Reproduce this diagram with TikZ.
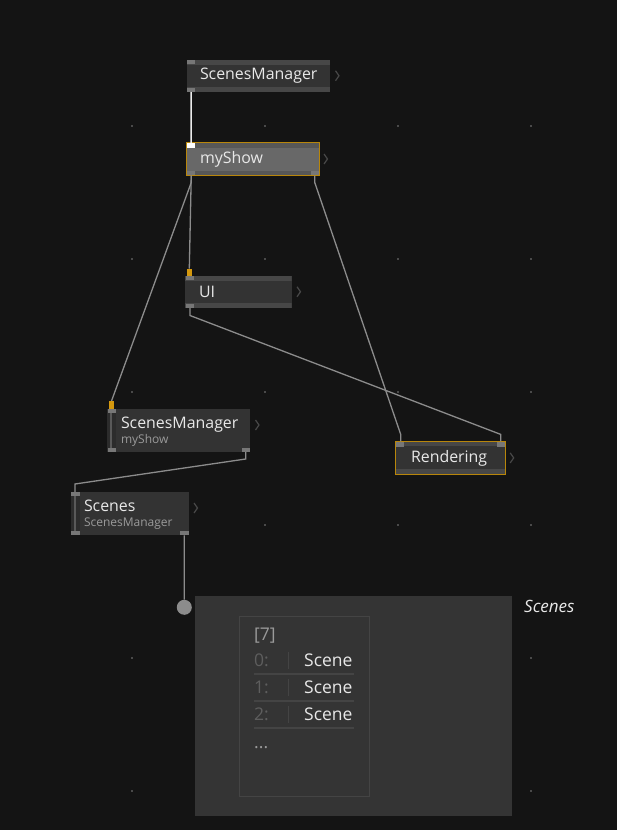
\documentclass[tikz,border=0pt]{standalone}
\usepackage{fontspec}
\setmainfont{Open Sans}
\usetikzlibrary{positioning,calc}
\definecolor{bgcol}    {HTML}{141414}
\definecolor{dotcol}   {HTML}{4A4A4A}
\definecolor{nodecol}  {HTML}{333333}
\definecolor{colcol}   {HTML}{2C2C2C}
\definecolor{stripcol} {HTML}{474747}
\definecolor{selcol}   {HTML}{686868}
\definecolor{selstrip} {HTML}{575757}
\definecolor{selframe} {HTML}{B8860B}
\definecolor{pincol}   {HTML}{777777}
\definecolor{hotpin}   {HTML}{D4980E}
\definecolor{wirecol}  {HTML}{8C8C8C}
\definecolor{textcol}  {HTML}{E8E8E8}
\definecolor{subcol}   {HTML}{9A9A9A}
\definecolor{chevcol}  {HTML}{484848}
\definecolor{tipcol}   {HTML}{343434}
\definecolor{tipframe} {HTML}{444444}
\definecolor{idxcol}   {HTML}{5E5E5E}
\newcommand\vsub[1]{{\fontsize{12}{15}\selectfont\color{subcol}#1}}

\begin{document}
\begin{tikzpicture}[x=1pt,y=-1pt,
  vnode/.style={anchor=north west,fill=nodecol,minimum height=31.5pt,outer sep=0pt,
                inner xsep=13pt,inner ysep=0pt,text width=#1,align=left,
                font=\fontsize{15.9}{15}\selectfont,text=textcol},
  strips/.style 2 args={path picture={
      \fill[#1] (path picture bounding box.north west) rectangle ([yshift=-5pt]path picture bounding box.north east);
      \fill[#2] (path picture bounding box.south west) rectangle ([yshift=5pt]path picture bounding box.south east);}},
  sel/.style={draw=selframe,line width=1.5pt},
  wire/.style={draw=wirecol,line width=1.3pt},
  pin/.style={fill=pincol},
  hot/.style={fill=hotpin},
  chev/.pic={\draw[chevcol,line width=1.2pt] (0,-5) -- (3.5,0) -- (0,5);},
  tiptext/.style={anchor=west,inner sep=0pt,font=\fontsize{17.5}{20}\selectfont}
]
\fill[bgcol] (0,0) rectangle (617,830);
\useasboundingbox (0,0) rectangle (617,830);
% grid
\foreach \gx in {131,264,397,530}
  \foreach \gy in {125,258,391,524,657,790}
    \fill[dotcol] (\gx,\gy) rectangle ++(1.6,1.6);

% probe view
\node[anchor=north west,fill=tipcol,minimum width=316.5pt,minimum height=219.5pt,inner sep=0pt] (tipbox) at (195,596) {};
\node[anchor=north west,draw=tipframe,line width=1pt,minimum width=130pt,minimum height=180pt,inner sep=0pt] (tiplist) at (239,616) {};
\node[tiptext,text=subcol] (count) at (254,636) {[7]};
\node[tiptext,text=idxcol] (idx0) at (254,660) {0:};
\node[tiptext,text=idxcol] (idx1) at (254,687.5) {1:};
\node[tiptext,text=idxcol] (idx2) at (254,714.5) {2:};
\node[tiptext,text=textcol] (val0) at (304,660) {Scene};
\node[tiptext,text=textcol] (val1) at (304,687.5) {Scene};
\node[tiptext,text=textcol] (val2) at (304,714.5) {Scene};
\node[tiptext,text=subcol,anchor=base west] (more) at (254,748) {...};
\draw[tipframe,line width=1pt] (288,652) -- (288,669) (288,679) -- (288,696) (288,706) -- (288,723);
\draw[tipframe,line width=1.3pt] (254,674) -- (354,674) (254,701) -- (354,701) (254,728) -- (354,728);
\node[anchor=west,inner sep=0pt,text=textcol,font=\itshape\fontsize{17}{20}\selectfont] (probelabel) at (524,606) {Scenes};

% nodes
\node[vnode=117pt,strips={stripcol}{stripcol}] (smTop) at (187,60) {ScenesManager};
\node[vnode=106pt,sel,fill=selcol,minimum height=33pt,inner xsep=13.5pt,strips={selstrip}{selstrip}] (myShow) at (186.5,142.5) {myShow};
\node[vnode=78.5pt,inner xsep=14pt,strips={stripcol}{stripcol}] (ui) at (185,276) {UI};
\node[vnode=115pt,inner xsep=14pt,minimum height=43pt,text depth=15pt] (smMid) at (107,409) {ScenesManager\\\vsub{myShow}};
\node[vnode=91.5pt,minimum height=43.3pt,text depth=15pt] (scenes) at (71,492) {Scenes\\\vsub{ScenesManager}};
\node[vnode=79.4pt,inner xsep=15.3pt,sel,minimum height=33pt,strips={stripcol}{stripcol}] (rendering) at (395.7,441.4) {Rendering};
\node[circle,fill=wirecol,minimum size=15pt,inner sep=0pt] (probe) at (184.3,607.3) {};

% spread columns
\fill[colcol] (smMid.north west) rectangle ([xshift=8.7pt]smMid.south west);
\fill[colcol] (scenes.north west) rectangle ([xshift=8.7pt]scenes.south west);
\draw[pincol!75!black,line width=1.7pt] ([shift={(4.3,4)}]smMid.north west) -- ([shift={(4.3,-4)}]smMid.south west);
\draw[pincol!75!black,line width=1.7pt] ([shift={(4.3,4)}]scenes.north west) -- ([shift={(4.3,-4)}]scenes.south west);

% links
\draw[draw=white!92!black,line width=1.5pt] ([xshift=4pt]smTop.south west) -- ([shift={(4.75,1)}]myShow.north west);
\draw[wire] ([xshift=4.75pt]myShow.south west) -- ([shift={(4.3,-7.3)}]ui.north west);
\draw[wire] ([xshift=4.75pt]myShow.south west) -- ++(0,7) -- ([shift={(4.5,-8)}]smMid.north west);
\draw[wire] ([xshift=-4.75pt]myShow.south east) -- ++(0,7) -- ([shift={(5,-7)}]rendering.north west) -- ([xshift=5pt]rendering.north west);
\draw[wire] ([xshift=5pt]ui.south west) -- ++(0,8) -- ([shift={(-5,-7)}]rendering.north east) -- ([xshift=-5pt]rendering.north east);
\draw[wire] ([xshift=-4.3pt]smMid.south east) -- ++(0,7) -- ([shift={(4,-8)}]scenes.north west) -- ([xshift=4pt]scenes.north west);
\draw[wire] ([xshift=-4.3pt]scenes.south east) -- (probe);

% pins
\fill[pin] (smTop.north west) rectangle ++(8,4);
\fill[pin] (smTop.south west) rectangle ++(8,-4);
\fill[white] ([shift={(0.75,0.75)}]myShow.north west) rectangle ++(8,5);
\fill[pin] ([shift={(0.75,-0.75)}]myShow.south west) rectangle ++(8,-4);
\fill[pin] ([shift={(-0.75,-0.75)}]myShow.south east) rectangle ++(-8,-4);
\fill[pin] ([xshift=1pt]ui.north west) rectangle ++(8,4);
\fill[pin] ([xshift=1pt]ui.south west) rectangle ++(8,-4);
\fill[hot] ([shift={(2.3,-7.3)}]ui.north west) rectangle ++(5,7.3);
\fill[pin] ([xshift=0.5pt]smMid.north west) rectangle ++(8.5,4);
\fill[pin] ([xshift=0.5pt]smMid.south west) rectangle ++(8.5,-4);
\fill[pin] (smMid.south east) rectangle ++(-8.5,-4);
\fill[hot] ([shift={(2,-8)}]smMid.north west) rectangle ++(5,8);
\fill[pin] (scenes.north west) rectangle ++(8.5,4);
\fill[pin] (scenes.south west) rectangle ++(8.5,-4);
\fill[pin] (scenes.south east) rectangle ++(-8.5,-4);
\fill[pin] ([shift={(0.75,0.75)}]rendering.north west) rectangle ++(8,4.5);
\fill[pin] ([shift={(-0.75,0.75)}]rendering.north east) rectangle ++(-8,4.5);

% chevrons
\pic at ([xshift=5.5pt]smTop.east) {chev};
\pic at ([xshift=4.5pt]myShow.east) {chev};
\pic at ([xshift=5.5pt]ui.east) {chev};
\pic at ([shift={(5.5,16)}]smMid.north east) {chev};
\pic at ([shift={(5.5,16)}]scenes.north east) {chev};
\pic at ([xshift=4.5pt]rendering.east) {chev};
\end{tikzpicture}
\end{document}
